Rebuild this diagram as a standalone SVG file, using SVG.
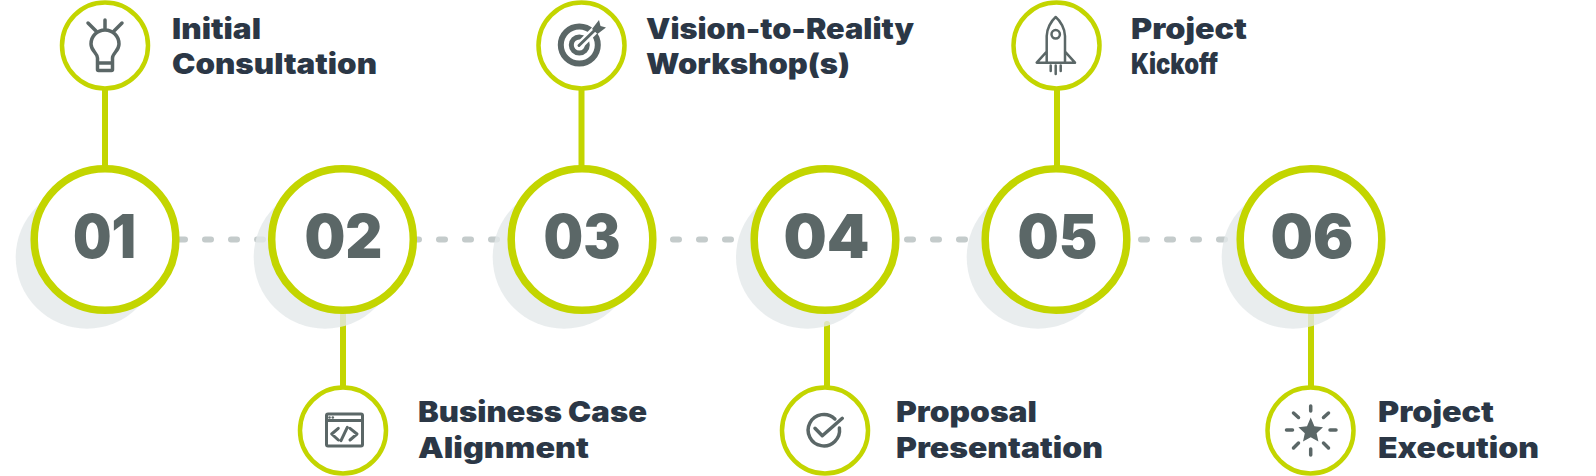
<svg xmlns="http://www.w3.org/2000/svg" width="1596" height="476" viewBox="0 0 1596 476">
<style>
.shadow{fill:#e4e9ea;opacity:.8}
.big{fill:#fff;stroke:#c3d500;stroke-width:7.5}
.small{fill:#fff;stroke:#c3d500;stroke-width:4.5}
.stem{stroke:#c3d500;stroke-width:6;fill:none}
.dash{stroke:#c4cbcb;stroke-width:6;stroke-linecap:round;stroke-dasharray:6 20;fill:none}
.num{font-family:Inter,"Liberation Sans",sans-serif;font-weight:900;font-size:60px;fill:#5b6767}
.lab{font-family:Inter,"Liberation Sans",sans-serif;font-weight:900;font-size:28px;fill:#2b3746}
.ic{fill:none;stroke:#5b6767;stroke-width:3.500;stroke-linecap:round;stroke-linejoin:round}
.thin{stroke-width:2.500}
.mid{stroke-width:3}
.icf{fill:#5b6767}
</style>
<rect width="1596" height="476" fill="#fff"/>
<g id="connectors">
<line class="stem" x1="105" y1="88" x2="105" y2="168"/>
<line class="stem" x1="581.500" y1="88" x2="581.500" y2="168"/>
<line class="stem" x1="1057" y1="88" x2="1057" y2="168"/>
<line class="stem" x1="343" y1="312" x2="343" y2="388"/>
<line class="stem" stroke-linecap="round" x1="827" y1="324" x2="827" y2="388"/>
<line class="stem" x1="1311" y1="312" x2="1311" y2="388"/>
<line class="dash" x1="179" y1="239.500" x2="263.500" y2="239.500"/>
<line class="dash" x1="413" y1="239.500" x2="497.500" y2="239.500"/>
<line class="dash" x1="673" y1="239.500" x2="731.500" y2="239.500"/>
<line class="dash" x1="907" y1="239.500" x2="965.500" y2="239.500"/>
<line class="dash" x1="1141" y1="239.500" x2="1225.500" y2="239.500"/>
</g>
<g id="node-01"><circle class="shadow" cx="87" cy="257.400" r="71.300"/><circle class="big" cx="105" cy="239.500" r="70.800"/><text class="num" x="73" y="257.500" textLength="63" lengthAdjust="spacingAndGlyphs">01</text></g>
<g id="node-02"><circle class="shadow" cx="325" cy="257.400" r="71.300"/><circle class="big" cx="342.500" cy="239.500" r="70.800"/><text class="num" x="304.500" y="257.500" textLength="78" lengthAdjust="spacingAndGlyphs">02</text></g>
<g id="node-03"><circle class="shadow" cx="564" cy="257.400" r="71.300"/><circle class="big" cx="582" cy="239.500" r="70.800"/><text class="num" x="543.500" y="257.500" textLength="77" lengthAdjust="spacingAndGlyphs">03</text></g>
<g id="node-04"><circle class="shadow" cx="807.300" cy="257.400" r="71.300"/><circle class="big" cx="825" cy="239.500" r="70.800"/><text class="num" x="783.500" y="257.500" textLength="86" lengthAdjust="spacingAndGlyphs">04</text></g>
<g id="node-05"><circle class="shadow" cx="1038" cy="257.400" r="71.300"/><circle class="big" cx="1056" cy="239.500" r="70.800"/><text class="num" x="1017.500" y="257.500" textLength="80" lengthAdjust="spacingAndGlyphs">05</text></g>
<g id="node-06"><circle class="shadow" cx="1293" cy="257.400" r="71.300"/><circle class="big" cx="1311" cy="239.500" r="70.800"/><text class="num" x="1270.500" y="257.500" textLength="83" lengthAdjust="spacingAndGlyphs">06</text></g>
<g id="step-initial"><circle class="small" cx="105" cy="45.500" r="43"/>
<path class="ic" d="M105 20V28.500M88 23L96 31M122 23L114 31M97.500 63V58C97.500 53 91 51 91 44A14 14 0 0 1 119 44C119 51 112.500 53 112.500 58V63H97.500V69.500C97.500 70 98 70.500 98.500 70.500H111.500C112 70.500 112.500 70 112.500 69.500V63"/>
<text class="lab"><tspan x="172" y="39" textLength="89" lengthAdjust="spacingAndGlyphs">Initial</tspan><tspan x="172" y="74" textLength="205" lengthAdjust="spacingAndGlyphs">Consultation</tspan></text></g>
<g id="step-vision"><circle class="small" cx="581.500" cy="45.500" r="43"/>
<circle class="ic" style="stroke-width:6" cx="579.300" cy="45" r="18.500"/><circle class="ic" style="stroke-width:5" cx="579.300" cy="45" r="8"/><path d="M578 47L598 27" stroke="#fff" stroke-width="8" fill="none"/><path class="ic mid" d="M579 45.500L597 28"/><path class="icf" d="M592 29L599 20L600.500 26L606 27.500L597.500 34Z"/>
<text class="lab"><tspan x="646" y="39" textLength="268" lengthAdjust="spacingAndGlyphs">Vision-to-Reality</tspan><tspan x="646" y="74" textLength="204" lengthAdjust="spacingAndGlyphs">Workshop(s)</tspan></text></g>
<g id="step-kickoff"><circle class="small" cx="1056.500" cy="45.500" r="43"/>
<path class="ic thin" d="M1046.700 62.700V36C1046.700 29 1051 21 1055.700 17C1060.500 21 1065 29 1065 36V62.700M1046.700 51.700L1036.700 62.700H1075L1065 51.700M1050.700 65.500V71M1055.700 65.500V74M1060.700 65.500V71"/><circle class="ic thin" cx="1055.700" cy="34.300" r="4.200"/>
<text class="lab"><tspan x="1131" y="39" textLength="116" lengthAdjust="spacingAndGlyphs">Project</tspan><tspan x="1131" y="74" textLength="87" lengthAdjust="spacingAndGlyphs">Kickoff</tspan></text></g>
<g id="step-business"><circle class="small" cx="343" cy="430.500" r="43"/>
<rect class="ic mid" x="326.500" y="414" width="36" height="32" rx="1.500"/><path class="ic mid" d="M326.500 420.500H362.500M338.300 428.300L331.700 434L338.300 440M350 428.300L357 434L350 440M347.300 427.300L341 440.700"/><circle class="icf" cx="329.500" cy="417.500" r="1.300"/><circle class="icf" cx="332.800" cy="417.500" r="1.300"/>
<text class="lab"><tspan x="418" y="422" textLength="229" lengthAdjust="spacingAndGlyphs">Business Case</tspan><tspan x="418" y="458" textLength="171" lengthAdjust="spacingAndGlyphs">Alignment</tspan></text></g>
<g id="step-proposal"><circle class="small" cx="825" cy="430.500" r="43"/>
<path class="ic" d="M834.900 419A15.700 15.700 0 1 0 839.400 428M815 428.300L822.300 435.700L842.300 418.300"/>
<text class="lab"><tspan x="896" y="422" textLength="141" lengthAdjust="spacingAndGlyphs">Proposal</tspan><tspan x="896" y="458" textLength="207" lengthAdjust="spacingAndGlyphs">Presentation</tspan></text></g>
<g id="step-execution"><circle class="small" cx="1310.500" cy="430.500" r="43"/>
<path class="icf" d="M1310.700 417.500L1314.400 426.300L1323 427.200L1316.600 433.200L1318.400 441.500L1310.700 437.200L1303 441.500L1304.800 433.200L1298.400 427.200L1307 426.300Z"/>
<path class="ic" d="M1310.700 406V411M1310.700 449V455M1286.500 430H1292.500M1330 430H1336M1293.500 413L1298.500 417.500M1328.500 413L1323.500 417.500M1293.500 448L1298.500 443M1328.500 448L1323.500 443"/>
<text class="lab"><tspan x="1378" y="422" textLength="116" lengthAdjust="spacingAndGlyphs">Project</tspan><tspan x="1378" y="458" textLength="161" lengthAdjust="spacingAndGlyphs">Execution</tspan></text></g>
</svg>
